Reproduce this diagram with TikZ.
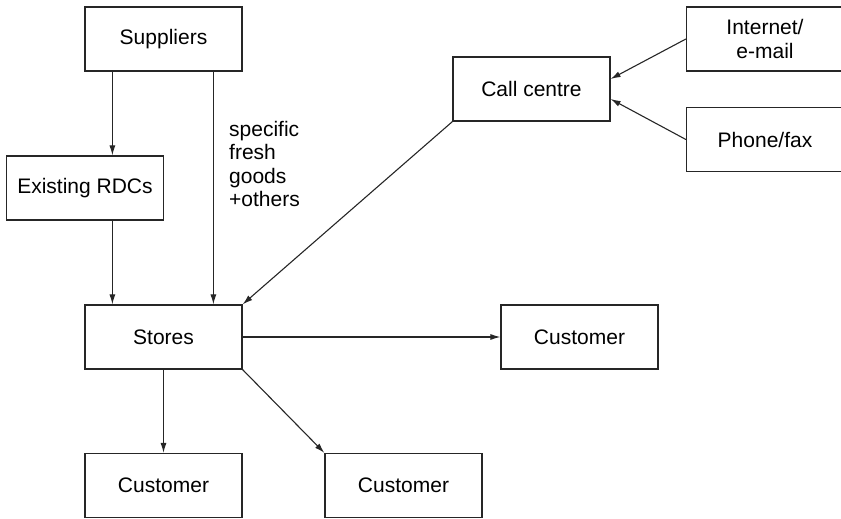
\documentclass[tikz,border=0pt]{standalone}
\usepackage{fontspec}
\setmainfont{Liberation Sans}
\usetikzlibrary{arrows.meta,calc}
\begin{document}
\begin{tikzpicture}[x=1pt,y=-1pt,
  box/.style={draw=black!85,line width=1.2pt,minimum width=157pt,minimum height=64pt,inner sep=0pt,font=\fontsize{21}{24}\selectfont,align=center},
  arr/.style={draw=black!85,line width=1.1pt,-{Latex[length=10pt,width=6pt]}}]
\useasboundingbox (0,0) rectangle (841,519);
\node[box] (sup) at (163.5,39) {Suppliers};
\node[box] (rdc) at (85,188) {Existing RDCs};
\node[box] (sto) at (163.5,337) {Stores};
\node[box] (cc) at (531.5,89) {Call centre};
\node[box] (inet) at (765,39) {Internet/\\e-mail};
\node[box] (ph) at (765,139.5) {Phone/fax};
\node[box] (c1) at (579.5,337) {Customer};
\node[box] (c2) at (163.5,485.5) {Customer};
\node[box] (c3) at (403.5,485.5) {Customer};
\node[anchor=north west,inner sep=0pt,align=left,font=\fontsize{21}{23.5}\selectfont] (lbl) at (229,121) {specific\\fresh\\goods\\+others};
\draw[arr] ([xshift=28]sup.south west) -- ([xshift=28]sup.south west |- rdc.north);
\draw[arr] ([xshift=28]sto.north west |- rdc.south) -- ([xshift=28]sto.north west);
\draw[arr] ([xshift=129]sup.south west) -- ([xshift=129]sto.north west);
\draw[arr] (cc.south west) -- (sto.north east);
\draw[arr] (inet.west) -- ([yshift=10]cc.east);
\draw[arr] (ph.west) -- ([yshift=-10]cc.east);
\draw[arr] (sto.east) -- (c1.west);
\draw[arr] (sto.south) -- (c2.north);
\draw[arr] (sto.south east) -- (c3.north west);
\end{tikzpicture}
\end{document}
